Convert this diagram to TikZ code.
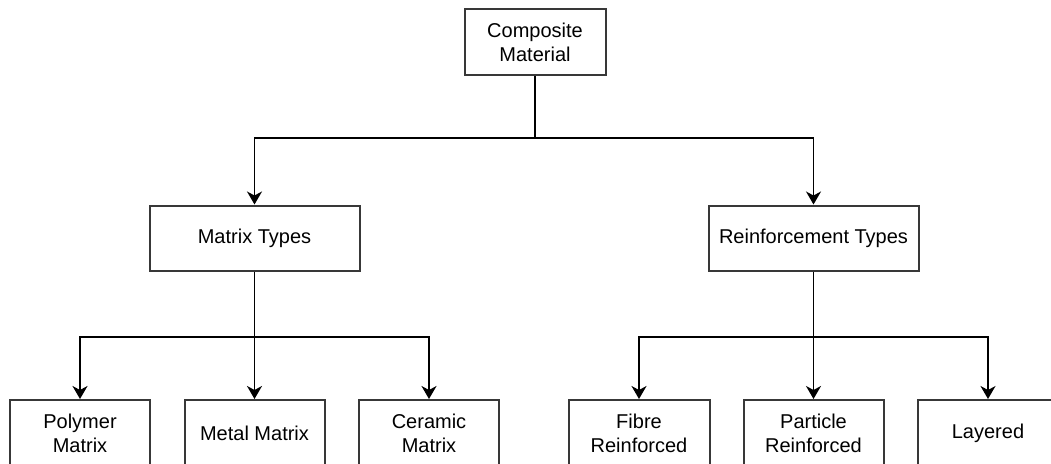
\documentclass[tikz,border=0pt]{standalone}
\usepackage{fontspec}
\setmainfont{Liberation Sans}
\usetikzlibrary{arrows.meta}
\begin{document}
\begin{tikzpicture}[x=1pt,y=-1pt,
  box/.style={draw=black!78,line width=2pt,fill=white,align=center,inner sep=0pt,
    font=\fontsize{20}{24}\selectfont,text=black},
  conn/.style={draw=black,line width=1.7pt},
  arr/.style={conn,-{Stealth[length=13pt,width=15pt,inset=4pt]}}]
\clip (0,0) rectangle (1051,463);
\fill[white] (0,0) rectangle (1051,463);
\node[box,minimum width=141pt,minimum height=66pt] (top) at (535,42) {Composite\\Material};
\node[box,minimum width=210pt,minimum height=65pt] (mt) at (254.5,238) {Matrix Types};
\node[box,minimum width=210pt,minimum height=65pt] (rt) at (813.5,238) {Reinforcement Types};
\node[box,minimum width=140pt,minimum height=66pt] (poly) at (80,433) {Polymer\\Matrix};
\node[box,minimum width=140pt,minimum height=66pt] (metal) at (254.5,433) {Metal Matrix};
\node[box,minimum width=140pt,minimum height=66pt] (cer) at (429,433) {Ceramic\\Matrix};
\node[box,minimum width=141pt,minimum height=66pt] (fib) at (639,433) {Fibre\\Reinforced};
\node[box,minimum width=140pt,minimum height=66pt] (par) at (813.5,433) {Particle\\Reinforced};
\node[box,minimum width=140pt,minimum height=66pt] (lay) at (988,433) {Layered};
\coordinate (j0) at (535,138);
\coordinate (j1) at (254.5,337);
\coordinate (j2) at (813.5,337);
\draw[conn] (top.south) -- (j0);
\draw[arr] (j0) -| (mt.north);
\draw[arr] (j0) -| (rt.north);
\draw[conn] (mt.south) -- (j1);
\draw[arr] (j1) -| (poly.north);
\draw[arr] (j1) -- (metal.north);
\draw[arr] (j1) -| (cer.north);
\draw[conn] (rt.south) -- (j2);
\draw[arr] (j2) -| (fib.north);
\draw[arr] (j2) -- (par.north);
\draw[arr] (j2) -| (lay.north);
\end{tikzpicture}
\end{document}
